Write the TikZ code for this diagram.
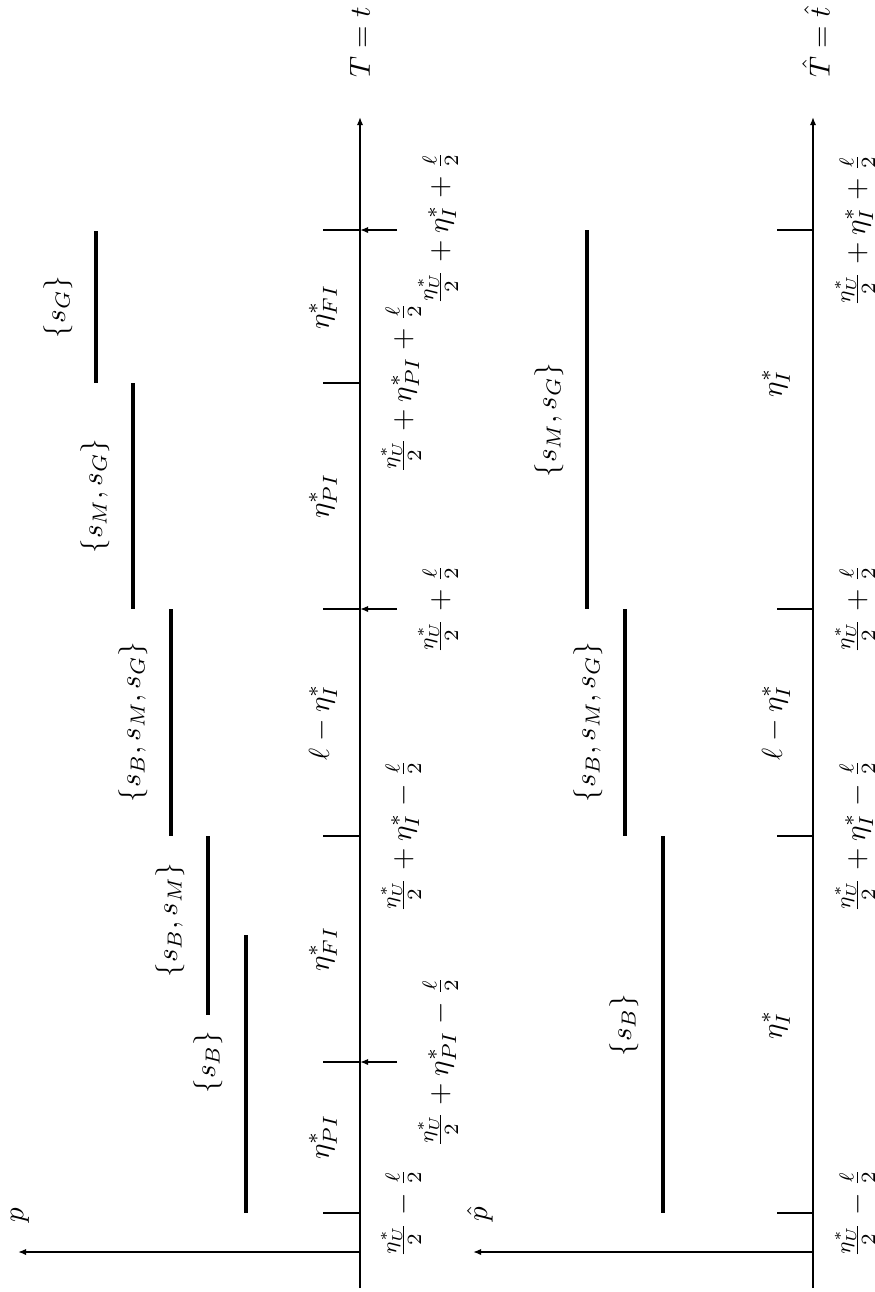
\documentclass[tikz,border=0pt]{standalone}
\usetikzlibrary{arrows.meta}
\begin{document}
\begin{tikzpicture}[x=0.345pt,y=-0.345pt,
  axisline/.style={line width=0.65pt},
  barline/.style={line width=1.5pt},
  arr/.style={-{Latex[length=2.8pt,width=2.2pt]}},
  lab/.style={rotate=90,inner sep=0pt}]
\useasboundingbox (0,0) rectangle (875,1292);

% ---------- first graph ----------
\coordinate (A1b) at (360,1288);
\coordinate (A1t) at (360,117);
\coordinate (O1) at (360,1252);
\coordinate (P1) at (18,1252);
\draw[axisline,arr] (A1b) -- (A1t);
\draw[axisline,arr] (O1) -- (P1);
\node[lab] (p1) at (20,1215) {$p$};
\node[lab] (T1) at (360,42) {$T=t$};

% ticks
\foreach \n/\y in {a/1213,b/1062,c/836,d/609,e/383,f/230}{
  \coordinate (t1\n) at (323,\y);
  \coordinate (u1\n) at (360,\y);
  \draw[axisline] (t1\n) -- (u1\n);
}
\foreach \n/\y in {b/1062,d/609,f/230}{
  \coordinate (v1\n) at (397,\y);
  \draw[axisline,arr] (v1\n) -- (u1\n);
}

% bars
\coordinate (b1s) at (246,935);  \coordinate (b1e) at (246,1213);
\coordinate (b2s) at (208,836);  \coordinate (b2e) at (208,1015);
\coordinate (b3s) at (171,609);  \coordinate (b3e) at (171,836);
\coordinate (b4s) at (133,383);  \coordinate (b4e) at (133,609);
\coordinate (b5s) at (96,231);   \coordinate (b5e) at (96,383);
\draw[barline] (b1s) -- (b1e);
\draw[barline] (b2s) -- (b2e);
\draw[barline] (b3s) -- (b3e);
\draw[barline] (b4s) -- (b4e);
\draw[barline] (b5s) -- (b5e);

\node[lab] (s1) at (208,1062) {$\{s_B\}$};
\node[lab] (s2) at (170,920) {$\{s_B,s_M\}$};
\node[lab] (s3) at (133,722) {$\{s_B,s_M,s_G\}$};
\node[lab] (s4) at (95,496) {$\{s_M,s_G\}$};
\node[lab] (s5) at (58,307) {$\{s_G\}$};

\node[lab] (e1) at (323,1137) {$\eta^*_{PI}$};
\node[lab] (e2) at (323,949) {$\eta^*_{FI}$};
\node[lab] (e3) at (323,722) {$\ell-\eta^*_I$};
\node[lab] (e4) at (323,496) {$\eta^*_{PI}$};
\node[lab] (e5) at (323,307) {$\eta^*_{FI}$};

\node[lab] (l1) at (401,1213) {$\frac{\eta^*_U}{2}-\frac{\ell}{2}$};
\node[lab] (l2) at (438,1062) {$\frac{\eta^*_U}{2}+\eta^*_{PI}-\frac{\ell}{2}$};
\node[lab] (l3) at (401,836) {$\frac{\eta^*_U}{2}+\eta^*_I-\frac{\ell}{2}$};
\node[lab] (l4) at (438,609) {$\frac{\eta^*_U}{2}+\frac{\ell}{2}$};
\node[lab] (l5) at (401,388) {$\frac{\eta^*_U}{2}+\eta^*_{PI}+\frac{\ell}{2}$};
\node[lab] (l6) at (438,228) {$\frac{\eta^*_U}{2}+\eta^*_I+\frac{\ell}{2}$};

% ---------- second graph ----------
\coordinate (A2b) at (813,1288);
\coordinate (A2t) at (813,117);
\coordinate (O2) at (813,1252);
\coordinate (P2) at (473,1252);
\draw[axisline,arr] (A2b) -- (A2t);
\draw[axisline,arr] (O2) -- (P2);
\node[lab] (p2) at (480,1214) {$\hat{p}$};
\node[lab] (T2) at (816,42) {$\hat{T}=\hat{t}$};

\foreach \n/\y in {a/1213,c/836,d/609,f/230}{
  \coordinate (t2\n) at (777,\y);
  \coordinate (u2\n) at (813,\y);
  \draw[axisline] (t2\n) -- (u2\n);
}

\coordinate (c1s) at (663,836);  \coordinate (c1e) at (663,1213);
\coordinate (c2s) at (625,609);  \coordinate (c2e) at (625,836);
\coordinate (c3s) at (587,230);  \coordinate (c3e) at (587,609);
\draw[barline] (c1s) -- (c1e);
\draw[barline] (c2s) -- (c2e);
\draw[barline] (c3s) -- (c3e);

\node[lab] (r1) at (624,1025) {$\{s_B\}$};
\node[lab] (r2) at (588,722) {$\{s_B,s_M,s_G\}$};
\node[lab] (r3) at (549,420) {$\{s_M,s_G\}$};

\node[lab] (f1) at (776,1025) {$\eta^*_I$};
\node[lab] (f2) at (776,722) {$\ell-\eta^*_I$};
\node[lab] (f3) at (776,383) {$\eta^*_I$};

\node[lab] (m1) at (855,1213) {$\frac{\eta^*_U}{2}-\frac{\ell}{2}$};
\node[lab] (m2) at (855,836) {$\frac{\eta^*_U}{2}+\eta^*_I-\frac{\ell}{2}$};
\node[lab] (m3) at (855,609) {$\frac{\eta^*_U}{2}+\frac{\ell}{2}$};
\node[lab] (m4) at (855,230) {$\frac{\eta^*_U}{2}+\eta^*_I+\frac{\ell}{2}$};
\end{tikzpicture}
\end{document}
